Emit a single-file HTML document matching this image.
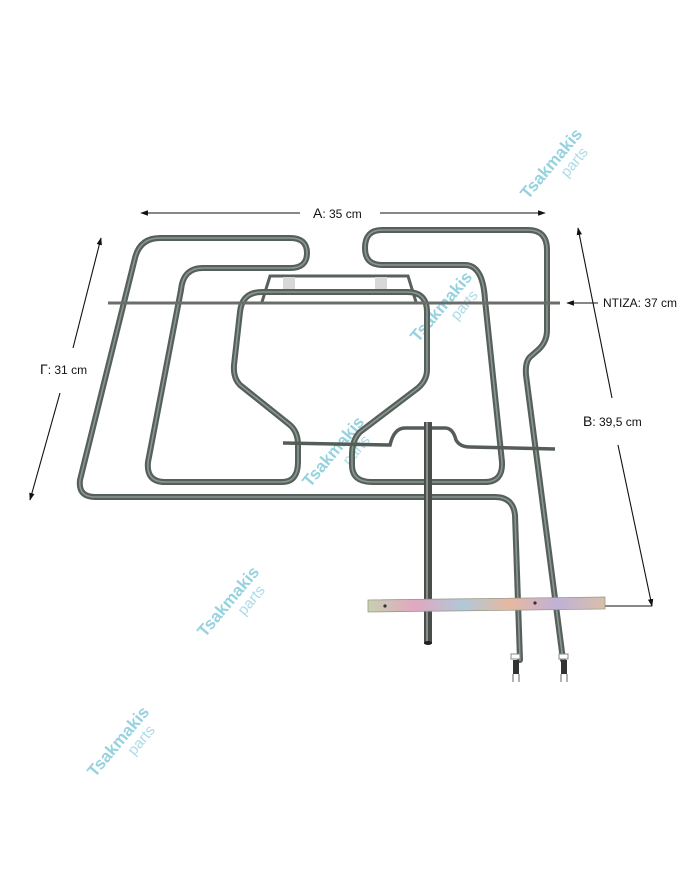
<!DOCTYPE html>
<html><head><meta charset="utf-8"><style>
html,body{margin:0;padding:0;background:#fff;}
svg{display:block;}
text{font-family:"Liberation Sans",sans-serif;}
</style></head><body>
<svg width="700" height="869" viewBox="0 0 700 869" xmlns="http://www.w3.org/2000/svg">
<defs>
<marker id="ah" viewBox="0 0 10 10" refX="9" refY="5" markerWidth="7" markerHeight="7" orient="auto-start-reverse"><path d="M0,1.5 L10,5 L0,8.5 z" fill="#111"/></marker>
<linearGradient id="plate" x1="0" x2="1">
<stop offset="0" stop-color="#c8d0b0"/><stop offset="0.2" stop-color="#e0a8c0"/><stop offset="0.4" stop-color="#b0c8d8"/><stop offset="0.6" stop-color="#e8b8a0"/><stop offset="0.8" stop-color="#c0b0d8"/><stop offset="1" stop-color="#d8c0a8"/>
</linearGradient>
<g id="wm">
<text x="0" y="0" font-weight="bold" font-size="17" fill="#7ec8d8" opacity="0.8">Tsakmakis</text>
<text x="42" y="16" font-size="15" fill="#8fd0de" opacity="0.75">parts</text>
</g>
</defs>

<!-- watermarks -->
<use href="#wm" transform="translate(528,200) rotate(-50)"/>
<use href="#wm" transform="translate(418,343) rotate(-50)"/>
<use href="#wm" transform="translate(310,488) rotate(-50)"/>
<use href="#wm" transform="translate(205,638) rotate(-50)"/>
<use href="#wm" transform="translate(95,778) rotate(-50)"/>

<!-- dimension lines -->
<g stroke="#111" stroke-width="1.1" fill="none">
<line x1="300" y1="213" x2="141" y2="213" marker-end="url(#ah)"/>
<line x1="380" y1="213" x2="545" y2="213" marker-end="url(#ah)"/>
<line x1="73" y1="348" x2="101" y2="238" marker-end="url(#ah)"/>
<line x1="60" y1="393" x2="30" y2="500" marker-end="url(#ah)"/>
<line x1="612" y1="398" x2="578" y2="228" marker-end="url(#ah)"/>
<line x1="618" y1="445" x2="652" y2="606" marker-end="url(#ah)"/>
<line x1="602" y1="606" x2="652" y2="606"/>
<line x1="598" y1="303" x2="567" y2="303" marker-end="url(#ah)"/>
</g>
<g fill="#111" font-size="12">
<text x="313" y="218"><tspan font-size="14">A</tspan>: 35 cm</text>
<text x="40" y="374"><tspan font-size="14">Γ</tspan>: 31 cm</text>
<text x="583" y="426"><tspan font-size="14">B</tspan>: 39,5 cm</text>
<text x="603" y="307">NTIZA: 37 cm</text>
</g>

<!-- top bracket -->
<path d="M262,302 L270,276 L408,276 L416,302" stroke="#5a605c" stroke-width="3" fill="none"/>
<rect x="283" y="277" width="12" height="12" fill="#d8d8d8"/>
<rect x="375" y="277" width="12" height="12" fill="#d8d8d8"/>

<!-- tubes -->
<g fill="none" stroke-linecap="round" stroke-linejoin="round">
<g stroke="#56605b" stroke-width="6">
<path id="t1" d="M520,660 L515,515 Q513,497 495,497 L95,497 Q78,497 80,480 L135,258 Q140,238 160,238 L290,238 Q307,238 307,253 Q307,268 290,268 L203,268 Q183,268 181,290 L148,462 Q146,482 165,482 L282,482 Q298,482 298,462 L298,445 Q298,432 290,425 L240,385 Q233,378 234,365 L240,312 Q242,292 262,292 L407,292 Q427,292 427,312 L427,370 Q427,380 418,388 L360,432 Q352,440 352,455 L352,465 Q352,482 372,482 L485,482 Q503,482 502,462 L485,300 Q483,265 465,265 L382,265 Q365,265 365,248 Q365,230 382,230 L528,230 Q547,230 547,250 L547,330 Q547,342 538,350 L530,357 Q525,362 526,375 L563,660"/>
</g>
<g stroke="#8d9792" stroke-width="1.6">
<use href="#t1"/>
</g>
</g>

<!-- rods -->
<line x1="108" y1="303" x2="560" y2="303" stroke="#6a6e6a" stroke-width="3"/>
<path d="M283,443 L390,445 Q394,428 405,428 L445,428 Q453,428 456,440 Q460,447 470,447 L555,449" stroke="#555d58" stroke-width="3.5" fill="none"/>
<rect x="424" y="422" width="8" height="222" fill="#4a4e4a"/>
<rect x="426" y="422" width="2" height="222" fill="#8a8e8a"/>
<ellipse cx="428" cy="643" rx="4" ry="2" fill="#222"/>

<!-- plate -->
<polygon points="368,600 605,597 605,609 368,612" fill="url(#plate)" stroke="#9a9a8a" stroke-width="0.8"/>
<circle cx="385" cy="606" r="1.6" fill="#333"/>
<circle cx="535" cy="603" r="1.6" fill="#333"/>

<!-- terminals -->
<g fill="#fff" stroke="#888">
<rect x="511" y="654" width="9" height="5"/>
<rect x="559" y="654" width="9" height="5"/>
</g>
<g fill="#333">
<rect x="513" y="660" width="6" height="14"/>
<rect x="561" y="660" width="6" height="14"/>
</g>
<g stroke="#666" stroke-width="1">
<line x1="513" y1="674" x2="513" y2="682"/><line x1="519" y1="674" x2="519" y2="682"/>
<line x1="561" y1="674" x2="561" y2="682"/><line x1="567" y1="674" x2="567" y2="682"/>
</g>
</svg>
</body></html>
